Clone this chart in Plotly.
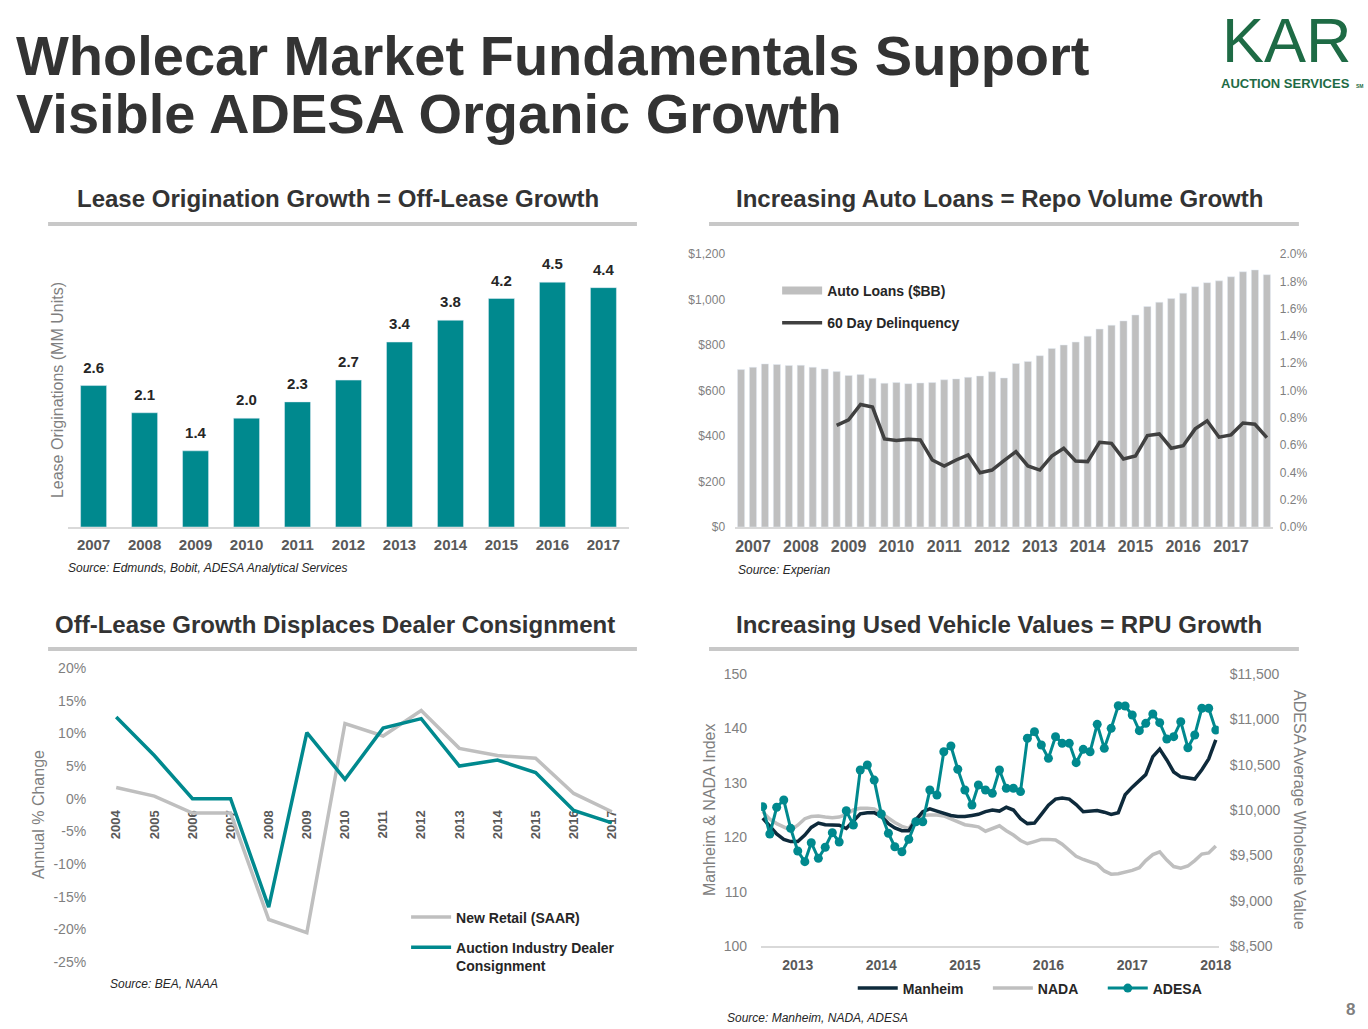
import plotly.graph_objects as go
import pandas as pd

# Target picture size and the page size that the figure is laid out in
W, H = 1368, 1029
FIG_W, FIG_H = 1383, 1045

def dx(p):
    return p / W

def dy(p):
    return 1 - p / H

TEAL = "#00898E"
LGRAY = "#BFBFBF"
DARK = "#333333"
TICKGRAY = "#7F7F7F"
XLAB = "#595959"
FONT = "Liberation Sans, Arial, sans-serif"
NB = "\u00a0" * 5

# ---------------- Data: Lease originations ----------------
lease_years = [str(y) for y in range(2007, 2018)]
lease_values = [2.6, 2.1, 1.4, 2.0, 2.3, 2.7, 3.4, 3.8, 4.2, 4.5, 4.4]

# ---------------- Data: Auto loans / delinquency ----------------
quarters = [f"{y}Q{q}" for y in range(2006, 2018) for q in range(1, 5)][3:]
loan_tick_years = [str(y) for y in range(2007, 2018)]
auto_loans = [692, 702, 717, 714, 710, 711, 702, 695, 683, 666, 670, 654,
              632, 635, 630, 633, 635, 647, 651, 658, 664, 682, 655, 719,
              728, 753, 785, 800, 813, 839, 870, 887, 906, 932, 969, 988,
              1004, 1028, 1056, 1074, 1082, 1100, 1122, 1130, 1109]
delinquency = [None] * 8 + [0.744, 0.785, 0.898, 0.879, 0.645, 0.633, 0.643, 0.638,
                            0.491, 0.447, 0.491, 0.528, 0.398, 0.417, 0.486, 0.552,
                            0.447, 0.417, 0.520, 0.577, 0.483, 0.479, 0.621, 0.613,
                            0.498, 0.520, 0.670, 0.682, 0.577, 0.596, 0.719, 0.778,
                            0.658, 0.675, 0.761, 0.753, 0.655]

# ---------------- Data: Off-lease vs dealer consignment ----------------
cons_years = [str(y) for y in range(2004, 2018)]
new_retail = [1.7, 0.4, -2.2, -2.2, -18.5, -20.5, 11.5, 9.6, 13.5, 7.7, 6.6, 6.2, 0.8, -2.0]
dealer_consignment = [12.5, 6.6, 0.0, 0.0, -16.6, 10.1, 2.95, 10.8, 12.25, 5.0, 5.9, 4.0, -1.8, -3.7]
pct_ticks = [20, 15, 10, 5, 0, -5, -10, -15, -20, -25]
pct_tick_labels = ["20%", "15%", "10%", "5%", "0%", "-5%", "-10%", "-15%", "-20%", "-25%"]

# ---------------- Data: Used vehicle values ----------------
months = pd.date_range("2012-08-01", periods=66, freq="MS")
manheim = [123.5, 122.0, 120.6, 119.6, 119.2, 119.2, 120.4, 121.8, 122.6, 122.3, 122.3, 122.2,
           121.6, 123.0, 124.3, 124.5, 124.5, 123.8, 122.5, 121.7, 121.2, 121.2, 123.2, 124.7,
           125.2, 124.8, 124.4, 124.0, 123.8, 123.8, 124.0, 124.2, 124.7, 125.0, 124.8, 125.5,
           125.0, 123.4, 122.5, 122.6, 124.2, 125.9, 127.0, 127.2, 127.0, 126.0, 124.7, 124.8,
           124.9, 124.6, 124.2, 124.5, 127.8, 129.2, 130.3, 131.5, 134.8, 136.2, 134.2, 132.0,
           131.1, 130.9, 130.7, 132.4, 134.4, 137.9]
nada = [124.7, 123.3, 122.5, 121.9, 121.3, 122.2, 123.4, 123.8, 123.9, 123.7, 123.6, 123.7,
        124.2, 125.0, 125.3, 125.3, 125.2, 124.4, 123.4, 122.7, 122.0, 121.6, 123.4, 124.0,
        124.1, 124.1, 123.9, 123.4, 122.8, 122.3, 122.1, 121.9, 121.1, 121.6, 122.1, 121.2,
        120.4, 119.4, 118.8, 119.2, 119.6, 119.6, 119.5, 118.7, 117.6, 116.5, 115.9, 115.5,
        115.0, 113.8, 113.2, 113.3, 113.6, 113.9, 114.4, 115.7, 116.8, 117.3, 115.8, 114.6,
        114.3, 114.7, 115.7, 116.9, 117.1, 118.4]
adesa = [10037, 9735, 10030, 10110, 9798, 9548, 9430, 9639, 9467, 9589, 9750, 9647,
         9992, 9834, 10441, 10496, 10330, 9956, 9743, 9595, 9540, 9677, 9871, 9871,
         10220, 10165, 10643, 10706, 10449, 10220, 10055, 10276, 10220, 10184, 10441, 10240,
         10240, 10203, 10791, 10864, 10717, 10570, 10809, 10735, 10735, 10522, 10669, 10643,
         10945, 10680, 10901, 11150, 11147, 11048, 10875, 10956, 11059, 10963, 10783, 10809,
         10974, 10687, 10827, 11122, 11122, 10882]
value_tick_dates = [f"{y}-01-01" for y in range(2013, 2019)]

fig = go.Figure()

# Chart 1: lease originations
fig.add_trace(go.Bar(
    x=lease_years, y=lease_values, marker_color=TEAL, width=0.51,
    xaxis="x", yaxis="y", showlegend=False, hoverinfo="x+y"))
fig.add_trace(go.Scatter(
    x=lease_years, y=lease_values, mode="markers+text",
    marker=dict(size=13, opacity=0), text=[f"{v:.1f}" for v in lease_values],
    textposition="top center", textfont=dict(size=15, color="#262626", weight="bold", family=FONT),
    cliponaxis=False, xaxis="x", yaxis="y", showlegend=False, hoverinfo="skip"))

# Chart 2: auto loans + delinquency
fig.add_trace(go.Bar(
    x=quarters, y=auto_loans, marker_color=LGRAY, width=0.6,
    xaxis="x2", yaxis="y2", showlegend=False, name="Auto Loans ($BB)"))
fig.add_trace(go.Scatter(
    x=[None], y=[None], mode="lines", line=dict(color=LGRAY, width=8),
    name="Auto Loans ($BB)", legend="legend", xaxis="x2", yaxis="y2", legendgroup="a"))
fig.add_trace(go.Scatter(
    x=quarters, y=delinquency, mode="lines", line=dict(color="#404040", width=3.5),
    name="60 Day Delinquency", legend="legend", xaxis="x2", yaxis="y3", legendgroup="b"))

# Chart 3: new retail vs dealer consignment
fig.add_trace(go.Scatter(
    x=cons_years, y=new_retail, mode="lines", line=dict(color=LGRAY, width=3.5),
    name="New Retail (SAAR)", legend="legend2", xaxis="x4", yaxis="y4", legendgroup="c"))
fig.add_trace(go.Scatter(
    x=cons_years, y=dealer_consignment, mode="lines", line=dict(color=TEAL, width=3.5),
    name="Auction Industry Dealer<br>Consignment", legend="legend2", xaxis="x4", yaxis="y4",
    legendgroup="d"))

# Chart 4: used vehicle values
fig.add_trace(go.Scatter(
    x=months, y=nada, mode="lines", line=dict(color=LGRAY, width=3.5),
    name="NADA" + NB, legend="legend3", legendrank=2, xaxis="x5", yaxis="y5"))
fig.add_trace(go.Scatter(
    x=months, y=manheim, mode="lines", line=dict(color="#0E2A3B", width=3.5),
    name="Manheim" + NB, legend="legend3", legendrank=1, xaxis="x5", yaxis="y5"))
fig.add_trace(go.Scatter(
    x=months, y=adesa, mode="lines+markers", line=dict(color=TEAL, width=3),
    marker=dict(size=9, color=TEAL), name="ADESA", legend="legend3", legendrank=3,
    xaxis="x5", yaxis="y6"))

zero_pos = dy(962) + (0 - (-25)) / 45 * (dy(668) - dy(962))

xlab_font = dict(size=15, color=XLAB, weight="bold", family=FONT)
legend_font = dict(size=14, color="#262626", weight="bold", family=FONT)

fig.update_layout(
    width=FIG_W, height=FIG_H, margin=dict(l=0, r=0, t=0, b=0),
    paper_bgcolor="white", plot_bgcolor="rgba(0,0,0,0)",
    font=dict(family=FONT, color=DARK),
    xaxis=dict(domain=[dx(68), dx(628)], anchor="y", type="category", range=[-0.5, 10.5],
               showline=True, linecolor="#D9D9D9", linewidth=2, showgrid=False, ticks="",
               tickfont=xlab_font, ticklabelstandoff=3),
    yaxis=dict(domain=[dy(527), dy(255)], anchor="x", range=[0, 5], visible=False),
    xaxis2=dict(domain=[dx(734), dx(1271)], anchor="y2", type="category", range=[-0.5, 44.5],
                tickvals=[f"{y}Q1" for y in range(2007, 2018)], ticktext=loan_tick_years,
                showline=True, linecolor="#D9D9D9", linewidth=2, showgrid=False, ticks="",
                tickfont=dict(size=16, color=XLAB, weight="bold", family=FONT), ticklabelstandoff=4),
    yaxis2=dict(domain=[dy(527), dy(254)], anchor="x2", range=[0, 1200], dtick=200,
                tickprefix="$", tickformat=",", showgrid=False, zeroline=False, ticks="",
                tickfont=dict(size=12, color=TICKGRAY, family=FONT), ticklabelstandoff=9),
    yaxis3=dict(overlaying="y2", side="right", anchor="x2", range=[0, 2.0], dtick=0.2,
                tickformat=".1f", ticksuffix="%", showgrid=False, zeroline=False, ticks="",
                tickfont=dict(size=12, color=TICKGRAY, family=FONT), ticklabelstandoff=6),
    xaxis4=dict(domain=[dx(97), dx(630)], anchor="free", position=zero_pos, type="category",
                range=[-0.5, 13.5], tickangle=-90, showline=False, showgrid=False, ticks="",
                zeroline=False, layer="below traces",
                tickfont=dict(size=13, color=XLAB, weight="bold", family=FONT), ticklabelstandoff=8),
    yaxis4=dict(domain=[dy(962), dy(668)], anchor="x4", range=[-25, 20], tickvals=pct_ticks,
                ticktext=pct_tick_labels, showgrid=False, zeroline=False, ticks="",
                tickfont=dict(size=14, color=TICKGRAY, family=FONT), ticklabelstandoff=10),
    xaxis5=dict(domain=[dx(760), dx(1217)], anchor="y5", type="date",
                range=["2012-07-25", "2018-01-14"], tickvals=value_tick_dates, tickformat="%Y",
                showline=True, linecolor="#D9D9D9", linewidth=2, showgrid=False, ticks="",
                tickfont=dict(size=14, color=XLAB, weight="bold", family=FONT), ticklabelstandoff=5),
    yaxis5=dict(domain=[dy(946), dy(674)], anchor="x5", range=[100, 150], dtick=10,
                showgrid=False, zeroline=False, ticks="",
                tickfont=dict(size=14, color=TICKGRAY, family=FONT), ticklabelstandoff=13),
    yaxis6=dict(overlaying="y5", side="right", anchor="x5", range=[8500, 11500], dtick=500,
                tickprefix="$", tickformat=",", showgrid=False, zeroline=False, ticks="",
                tickfont=dict(size=14, color=TICKGRAY, family=FONT), ticklabelstandoff=10),
    legend=dict(x=dx(776), y=dy(275), xanchor="left", yanchor="top", bgcolor="rgba(0,0,0,0)",
                font=legend_font, tracegroupgap=11, traceorder="grouped", itemwidth=40),
    legend2=dict(x=dx(405.5), y=dy(901.5), xanchor="left", yanchor="top", bgcolor="rgba(0,0,0,0)",
                 font=legend_font, tracegroupgap=9, traceorder="grouped", valign="top",
                 itemwidth=40),
    legend3=dict(x=dx(851.5), y=dy(972.5), xanchor="left", yanchor="top", orientation="h",
                 bgcolor="rgba(0,0,0,0)", font=legend_font, itemwidth=40),
)

annotations = []

def ann(text, x, y, size, color=DARK, xanchor="center", yanchor="middle", weight="normal",
        style="normal", angle=0, family=FONT):
    annotations.append(dict(
        text=text, x=dx(x), y=dy(y), xref="paper", yref="paper", xanchor=xanchor,
        yanchor=yanchor, showarrow=False, textangle=angle,
        font=dict(size=size, color=color, weight=weight, style=style, family=family)))

# Main title
ann("Wholecar Market Fundamentals Support", 14, 55, 56, "#333333", xanchor="left", weight="bold")
ann("Visible ADESA Organic Growth", 14, 114, 56, "#333333", xanchor="left", weight="bold")

# Logo
ann("KAR", 1285, 40, 63, "#1E6B45", weight="normal")
ann("AUCTION SERVICES", 1284, 83, 13, "#1E6B45", weight="bold")
ann("SM", 1358, 86, 5, "#1E6B45", weight="bold")

# Section titles
ann("Lease Origination Growth = Off-Lease Growth", 338, 199, 24, DARK, weight="bold")
ann("Increasing Auto Loans = Repo Volume Growth", 998, 199, 24, DARK, weight="bold")
ann("Off-Lease Growth Displaces Dealer Consignment", 335, 624, 24, DARK, weight="bold")
ann("Increasing Used Vehicle Values = RPU Growth", 998, 624, 24, DARK, weight="bold")

# Axis titles
ann("Lease Originations (MM Units)", 57, 390, 16, TICKGRAY, angle=-90)
ann("Annual % Change", 38, 815, 16, TICKGRAY, angle=-90)
ann("Manheim & NADA Index", 708, 810, 16, TICKGRAY, angle=-90)
ann("ADESA Average Wholesale Value", 1298, 810, 16, TICKGRAY, angle=90)

# Sources
ann("Source: Edmunds, Bobit, ADESA Analytical Services", 66, 568, 12, "#262626",
    xanchor="left", style="italic")
ann("Source: Experian", 735, 570, 12, "#262626", xanchor="left", style="italic")
ann("Source: BEA, NAAA", 108, 984, 12, "#262626", xanchor="left", style="italic")
ann("Source: Manheim, NADA, ADESA", 724, 1018, 12, "#262626", xanchor="left", style="italic")

# Page number
ann("8", 1349, 1009, 17, TICKGRAY, weight="bold")

fig.update_layout(annotations=annotations)

# Section underlines
shapes = []
for x0, x1, yy in [(48, 636, 224), (708, 1297, 224), (48, 636, 649), (708, 1297, 649)]:
    shapes.append(dict(type="line", xref="paper", yref="paper", x0=dx(x0), x1=dx(x1),
                       y0=dy(yy), y1=dy(yy), line=dict(color="#C8C8C8", width=4)))
fig.update_layout(shapes=shapes)

fig.write_html(
    "out.html",
    config={"displayModeBar": False},
    post_script=(
        "var d=document.getElementById('{plot_id}');"
        "d.style.position='fixed';d.style.left='0px';d.style.top='-8px';"
        "document.body.style.margin='0';document.documentElement.style.overflow='hidden';"
    ),
)
